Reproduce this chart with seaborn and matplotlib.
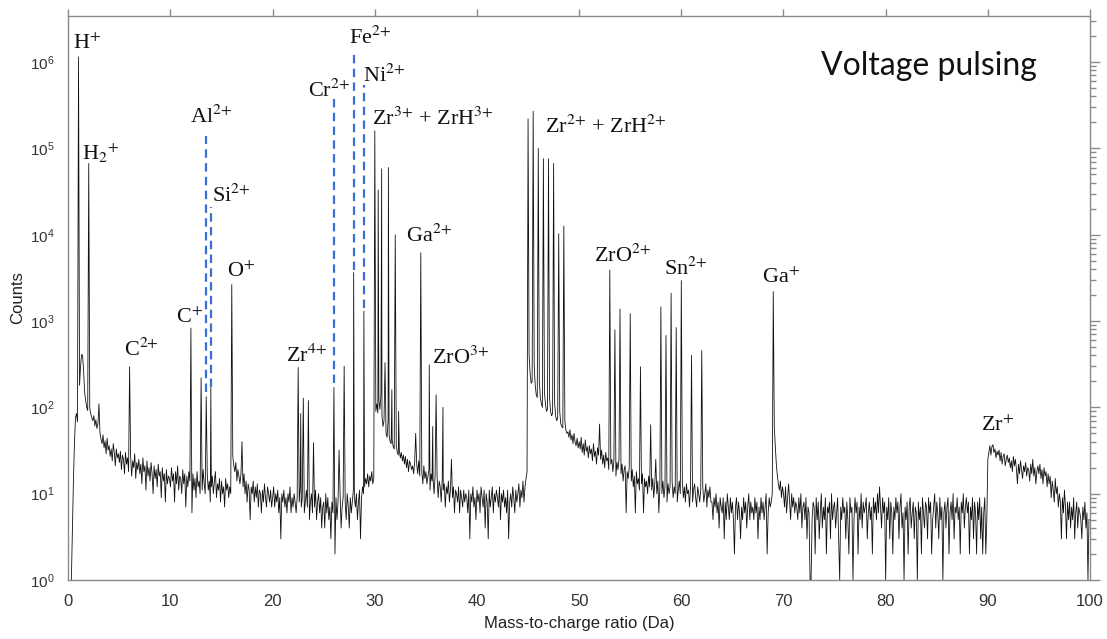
import numpy as np
import pandas as pd
import matplotlib
matplotlib.use("Agg")
import matplotlib.pyplot as plt
from matplotlib.ticker import NullLocator, FixedLocator, NullFormatter, FuncFormatter
import seaborn as sns

nan = np.nan

# ---------------- background counts, 0.1 Da steps ----------------
bg_00 = [nan, nan, nan, 1, 4, 14, 38, 75, 85, 68,
         70, 180, 300, 410, 400, 260, 150, 120, 100, 92,
         90, 98, 84, 76, 70, 80, 61, 72, 57, 64,
         58, 50, 43, 38, 48, 34, 41, 29, 44, 32,
         36, 27, 33, 24, 38, 30, 21, 33, 26, 29,
         23, 31, 19, 28, 25, 17, 30, 22, 26, 18,
         21, 27, 16, 24, 20, 29, 15, 23, 19, 25,
         17, 22, 13, 26, 18, 21, 11, 24, 16, 20,
         14, 23, 17, 10, 21, 15, 19, 12, 22, 16,
         18, 9, 20, 14, 17, 8, 19, 13, 16, 15]
bg_10 = [12, 20, 14, 17, 8, 18, 13, 21, 11, 16,
         15, 10, 19, 13, 17, 7, 16, 12, 18, 14,
         13, 6, 17, 11, 15, 9, 18, 12, 14, 10,
         16, 11, 19, 13, 10, 15, 17, 11, 14, 8,
         12, 16, 10, 14, 18, 9, 13, 11, 15, 8,
         14, 10, 12, 7, 15, 11, 13, 9, 12, 10,
         11, 27, 21, 18, 23, 14, 19, 16, 13, 17,
         15, 12, 17, 10, 14, 8, 13, 11, 5, 12,
         10, 14, 8, 12, 9, 13, 7, 11, 10, 6,
         11, 8, 13, 9, 7, 12, 10, 8, 11, 7]
bg_20 = [9, 12, 7, 10, 8, 11, 6, 9, 3, 10,
         8, 11, 7, 9, 6, 10, 8, 12, 6, 9,
         7, 10, 8, 6, 9, 11, 8, 12, 7, 9,
         10, 6, 8, 11, 7, 9, 5, 8, 10, 6,
         9, 7, 11, 5, 8, 10, 6, 9, 4, 7,
         8, 4, 10, 6, 9, 5, 7, 3, 8, 6,
         7, 2, 9, 5, 8, 6, 10, 4, 7, 9,
         6, 8, 5, 10, 7, 4, 9, 6, 8, 11,
         9, 7, 10, 5, 8, 11, 3, 9, 12, 10,
         12, 15, 13, 17, 12, 16, 14, 18, 13, 15]
bg_30 = [15, 90, 110, 86, 120, 95, 140, 80, 60, 70,
         60, 50, 45, 70, 48, 40, 38, 42, 35, 33,
         40, 36, 30, 28, 32, 26, 30, 24, 28, 22,
         27, 20, 25, 18, 24, 22, 19, 21, 17, 23,
         19, 22, 17, 24, 16, 20, 18, 13, 21, 15,
         18, 13, 16, 19, 11, 17, 14, 15, 10, 16,
         13, 15, 9, 14, 12, 8, 15, 11, 13, 7,
         12, 10, 14, 8, 11, 13, 9, 12, 6, 11,
         10, 8, 12, 6, 11, 9, 7, 11, 8, 10,
         9, 6, 11, 3, 10, 8, 12, 7, 9, 5]
bg_40 = [11, 8, 10, 6, 12, 9, 7, 11, 4, 10,
         8, 3, 11, 7, 9, 12, 6, 10, 8, 11,
         9, 7, 12, 5, 10, 8, 11, 7, 9, 6,
         11, 3, 8, 10, 7, 12, 9, 6, 11, 8,
         10, 13, 7, 11, 9, 14, 8, 12, 15, 18,
         20, 400, 250, 190, 200, 260, 300, 180, 140, 130,
         150, 200, 130, 110, 100, 120, 150, 110, 90, 95,
         100, 130, 90, 80, 85, 95, 110, 80, 70, 75,
         80, 90, 65, 60, 58, 62, 70, 55, 50, 52,
         45, 55, 42, 48, 38, 50, 40, 36, 44, 34]
bg_50 = [40, 33, 45, 30, 38, 28, 42, 31, 35, 26,
         36, 29, 33, 24, 38, 27, 31, 22, 34, 28,
         30, 25, 32, 22, 28, 20, 30, 24, 26, 19,
         27, 22, 25, 18, 24, 21, 16, 23, 19, 25,
         20, 17, 22, 14, 19, 21, 6, 18, 15, 20,
         17, 14, 19, 12, 16, 6, 18, 13, 15, 11,
         16, 13, 17, 6, 15, 12, 14, 10, 16, 12,
         14, 11, 15, 9, 13, 12, 10, 14, 6, 12,
         13, 10, 14, 9, 12, 11, 8, 13, 10, 12,
         11, 14, 9, 12, 10, 13, 8, 11, 14, 10]
bg_60 = [11, 14, 9, 12, 8, 13, 10, 11, 7, 12,
         10, 8, 11, 13, 9, 7, 12, 10, 8, 11,
         9, 12, 8, 10, 13, 7, 11, 9, 12, 8,
         8, 5, 9, 7, 10, 6, 8, 4, 9, 7,
         6, 9, 3, 8, 5, 10, 7, 5, 9, 6,
         8, 5, 2, 7, 9, 5, 8, 6, 3, 7,
         5, 9, 6, 8, 4, 7, 10, 5, 8, 6,
         7, 5, 9, 6, 8, 3, 7, 5, 9, 6,
         8, 5, 7, 10, 2, 6, 9, 7, 8, 10,
         12, 60, 35, 22, 16, 13, 11, 14, 9, 12]
bg_70 = [10, 7, 12, 6, 9, 13, 8, 5, 10, 7,
         9, 6, 8, 7, 5, 9, 6, 10, 4, 7,
         8, 5, 9, 3, 7, 6, 1, 1, 5, 8,
         7, 2, 9, 5, 8, 3, 6, 10, 4, 7,
         5, 9, 2, 7, 6, 8, 3, 10, 5, 7,
         8, 4, 6, 9, 3, 1, 7, 5, 9, 6,
         7, 3, 8, 5, 2, 9, 6, 7, 1, 5,
         9, 6, 8, 2, 7, 5, 10, 4, 8, 6,
         7, 9, 3, 6, 8, 5, 7, 2, 9, 6,
         8, 5, 10, 6, 12, 7, 4, 9, 6, 8]
bg_80 = [1, 7, 5, 9, 3, 8, 6, 2, 7, 5,
         9, 6, 8, 3, 7, 10, 4, 6, 1, 7,
         5, 8, 2, 7, 9, 4, 6, 8, 3, 7,
         6, 1, 8, 5, 7, 2, 9, 6, 4, 8,
         7, 3, 9, 6, 8, 2, 5, 7, 10, 4,
         8, 6, 3, 9, 5, 7, 1, 6, 8, 4,
         7, 9, 2, 6, 8, 5, 10, 3, 7, 6,
         9, 5, 7, 2, 8, 6, 10, 4, 7, 9,
         6, 8, 2, 7, 5, 9, 3, 8, 6, 2,
         8, 5, 9, 3, 7, 2, 6, 9, 2, 5]
bg_90 = [25, 30, 36, 28, 35, 37, 30, 33, 26, 31,
         28, 32, 24, 30, 22, 27, 29, 21, 25, 28,
         23, 26, 20, 24, 18, 27, 21, 25, 19, 13,
         22, 17, 24, 19, 15, 21, 18, 23, 16, 20,
         19, 14, 22, 17, 25, 16, 20, 13, 18, 21,
         17, 22, 15, 19, 13, 20, 16, 18, 12, 17,
         13, 16, 9, 14, 11, 8, 15, 10, 12, 7,
         10, 8, 3, 9, 6, 11, 7, 3, 8, 5,
         8, 4, 7, 5, 9, 3, 6, 8, 4, 7,
         6, 5, 3, 7, 5, 8, 4, 6, 1, 5]
bg_end = [5]

# ---------------- peaks (m/z, counts) ----------------
peak_mz = [1.0, 2.0, 3.0, 6.0, 12.0, 13.0, 13.5, 13.95, 16.0, 17.0,
           22.5, 22.75, 23.0, 23.5, 24.0, 26.0, 26.5, 27.0, 27.93, 28.93,
           30.0, 30.33, 30.67, 31.0, 31.33, 31.67, 32.0, 32.33, 34.0, 34.5,
           35.33, 35.67, 36.0, 36.67, 37.5,
           45.0, 45.5, 46.0, 46.5, 47.0, 47.5, 48.0, 48.5,
           52.0, 53.0, 53.5, 54.0, 55.0, 56.0, 57.0, 57.5, 58.0, 58.5,
           59.0, 59.5, 60.0, 61.0, 62.0, 69.0]
peak_counts = [1.15e6, 6.7e4, 110, 295, 830, 220, 133, 170, 2650, 40,
               290, 85, 128, 120, 39, 170, 32, 300, 3650, 1300,
               1.6e5, 3.3e4, 5.8e4, 330, 6.0e4, 160, 1.0e4, 90, 50, 6200,
               310, 60, 140, 100, 25,
               2.2e5, 2.7e5, 1.0e5, 7.6e4, 7.6e4, 6.7e4, 1.03e4, 1.26e4,
               64, 3900, 790, 1380, 1220, 295, 63, 25, 1460, 680,
               2100, 840, 2950, 400, 455, 2200]

# ---------------- ion labels ----------------
ion_labels = [r"H$^{+}$", r"H$_{2}{}^{+}$", r"C$^{2{+}}$", r"C$^{+}$", r"Al$^{2{+}}$",
              r"Si$^{2{+}}$", r"O$^{+}$", r"Zr$^{4{+}}$", r"Cr$^{2{+}}$", r"Fe$^{2{+}}$",
              r"Ni$^{2{+}}$", r"Zr$^{3{+}}$ + ZrH$^{3{+}}$", r"Ga$^{2{+}}$", r"ZrO$^{3{+}}$",
              r"Zr$^{2{+}}$ + ZrH$^{2{+}}$", r"ZrO$^{2{+}}$", r"Sn$^{2{+}}$", r"Ga$^{+}$", r"Zr$^{+}$"]
ion_label_x = [0.46, 1.34, 5.44, 10.53, 11.9, 14.05, 15.5, 21.35, 23.43, 27.44,
               28.81, 29.76, 33.08, 35.62, 46.7, 51.49, 58.33, 67.94, 89.29]
ion_label_y = [1.42e6, 7.36e4, 394, 943, 1.98e5, 2.4e4, 3245, 339, 3.98e5, 1.61e6,
               5.94e5, 1.87e5, 8318, 324, 1.5e5, 4877, 3420, 2786, 53.7]

# ---------------- dashed markers ----------------
marker_mz = [13.5, 13.95, 26.0, 27.93, 28.93]
marker_top = [1.38e5, 2.1e4, 3.9e5, 1.4e6, 5.5e5]
marker_bottom = [150, 170, 190, 3900, 1400]

x_ticks = [0, 10, 20, 30, 40, 50, 60, 70, 80, 90, 100]
y_decades = [0, 1, 2, 3, 4, 5, 6]

title_text = "Voltage pulsing"
x_label = "Mass-to-charge ratio (Da)"
y_label = "Counts"

# ---------------- data frame ----------------
background = np.concatenate([bg_00, bg_10, bg_20, bg_30, bg_40, bg_50,
                             bg_60, bg_70, bg_80, bg_90, bg_end]).astype(float)
mz_grid = np.round(np.arange(len(background)) * 0.1, 2)
df_bg = pd.DataFrame({"mz": mz_grid, "counts": background})
df_pk = pd.DataFrame({"mz": np.round(peak_mz, 2), "counts": peak_counts})
df = (pd.concat([df_bg, df_pk]).groupby("mz", as_index=False)["counts"].max()
      .dropna().sort_values("mz"))

# ---------------- style ----------------
sns.set_theme(style="white")
plt.rcParams["font.family"] = ["Liberation Sans", "DejaVu Sans"]
plt.rcParams["mathtext.fontset"] = "custom"
plt.rcParams["mathtext.rm"] = "Liberation Sans"
plt.rcParams["mathtext.it"] = "Liberation Sans:italic"
plt.rcParams["mathtext.bf"] = "Liberation Sans:bold"

fig = plt.figure(figsize=(11.07, 6.39), dpi=100)
ax = fig.add_axes([68.3 / 1107, (639 - 580) / 639, (1090 - 68.3) / 1107, (580 - 15.7) / 639])

sns.lineplot(data=df, x="mz", y="counts", estimator=None, sort=True,
             color="#111111", linewidth=0.6, ax=ax)

for xm, yt, yb in zip(marker_mz, marker_top, marker_bottom):
    ax.plot([xm, xm], [yb, yt], color="#3b6fd6", linewidth=1.6,
            dashes=(3.8, 2.4), zorder=3)

ax.set_yscale("log")
ax.set_xlim(0, 100)
ax.set_ylim(1, 3.45e6)

y_major = [10.0 ** d for d in y_decades]
y_minor = [m * 10.0 ** d for d in y_decades for m in range(2, 10) if m * 10.0 ** d < 3.45e6]
ax.xaxis.set_major_locator(FixedLocator(x_ticks))
ax.xaxis.set_minor_locator(NullLocator())
ax.yaxis.set_major_locator(FixedLocator(y_major))
ax.yaxis.set_major_formatter(FuncFormatter(lambda v, p: r"$\mathregular{10^{%d}}$" % round(np.log10(v))))
ax.yaxis.set_minor_locator(FixedLocator(y_minor))
ax.yaxis.set_minor_formatter(NullFormatter())

ax.tick_params(which="both", direction="out", top=True, right=True,
               labeltop=False, labelright=False, color="#8a8a8a", width=1.0,
               labelcolor="#333333")
ax.tick_params(axis="y", which="major", length=7.5, pad=2.5, labelsize=11)
ax.tick_params(axis="y", which="minor", length=4)
ax.tick_params(axis="x", which="major", length=5, pad=5, labelsize=12)

for sp in ax.spines.values():
    sp.set_color("#8a8a8a")
    sp.set_linewidth(1.0)
    sp.set_visible(True)

ax.set_xlabel(x_label, fontsize=12, color="#222222")
ax.set_ylabel(y_label, fontsize=12, color="#222222")
ax.xaxis.set_label_coords(0.5, -0.063)
ax.yaxis.set_label_coords(-0.0424, 0.5)

for lab, lx, ly in zip(ion_labels, ion_label_x, ion_label_y):
    ax.text(lx, ly, lab, fontsize=16, family="Liberation Serif",
            math_fontfamily="stix", ha="left", va="baseline", color="#111111",
            zorder=4)

ax.text(73.7, 7.1e5, title_text, fontsize=23, family="Lato",
        ha="left", va="baseline", color="#111111")

fig.savefig("out.png", dpi=100, facecolor="white")
